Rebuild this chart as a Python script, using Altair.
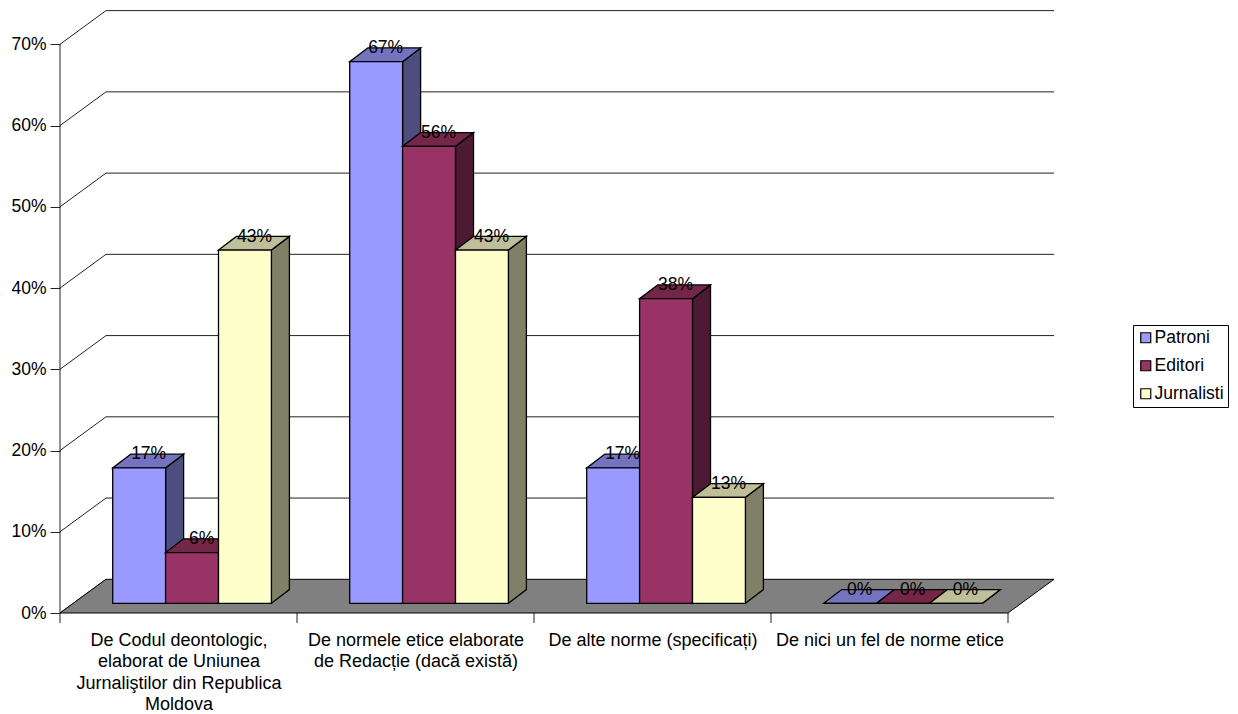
import altair as alt
import pandas as pd

categories = [
    "De Codul deontologic,|elaborat de Uniunea|Jurnaliştilor din Republica|Moldova",
    "De normele etice elaborate|de Redacție (dacă există)",
    "De alte norme (specificați)",
    "De nici un fel de norme etice",
]
series = ["Patroni", "Editori", "Jurnalisti"]
patroni = [16.67, 66.67, 16.67, 0]
editori = [6.25, 56.25, 37.5, 0]
jurnalisti = [43.48, 43.48, 13.04, 0]
values = [patroni, editori, jurnalisti]
labels = [
    ["17%", "67%", "17%", "0%"],
    ["6%", "56%", "38%", "0%"],
    ["43%", "43%", "13%", "0%"],
]
front_colors = ["#9999FF", "#993366", "#FFFFCC"]
top_colors = ["#7373BF", "#732647", "#BFBF99"]
side_colors = ["#4D4D80", "#4D1A33", "#808066"]
y_ticks = [0, 10, 20, 30, 40, 50, 60, 70]
x_ticks = [0, 1, 2, 3, 4]
label_ticks = [0.5, 1.5, 2.5, 3.5]

FONT = "Liberation Sans"
FS = 17.5
FS_X = 18
W, H = 994, 602
PX_X = 237.0        # pixels per category
PX_Y = 8.124        # pixels per percent
WALL_X = 46 / PX_X  # depth of the floor
WALL_Y = 33.7 / PX_Y
BAR_START = 52.7 / PX_X
BAR_W = 52.9 / PX_X
BAR_FLOOR = 9.7 / PX_Y
BAR_DX = 18 / PX_X
BAR_DY = 13.7 / PX_Y
TICK = 10 / PX_Y
LBL_DX = 9.5 / PX_X
LBL_DY = 13.5 / PX_Y

xs = alt.Scale(domain=[0, W / PX_X], range=[0, W], nice=False, zero=False)
ys = alt.Scale(domain=[0, H / PX_Y], range=[H, 0], nice=False, zero=False)

x_axis = alt.Axis(values=label_ticks, title=None, domain=False, ticks=False,
                  grid=False, labelFont=FONT, labelFontSize=FS_X,
                  labelColor="black", labelOverlap=False, labelBound=False,
                  labelFlush=False, labelPadding=27, labelLineHeight=21.5,
                  labelBaseline="middle", labelLimit=400,
                  labelExpr="split(" + repr(categories) + "[floor(datum.value)], '|')")
y_axis = alt.Axis(values=y_ticks, title=None, domain=False, grid=False,
                  tickSize=10, tickColor="#222222", labelFont=FONT,
                  labelFontSize=FS, labelColor="black", labelPadding=4,
                  labelExpr="datum.value + '%'")


def X(f):
    return alt.X(f, type="quantitative", scale=xs, axis=x_axis)


def Y(f):
    return alt.Y(f, type="quantitative", scale=ys, axis=y_axis)


# Back wall
grid = pd.DataFrame(
    {"x": WALL_X, "x2": 4 + WALL_X, "y": [t + WALL_Y for t in y_ticks if t > 0]}
)
wall = alt.Chart(grid).mark_rule(color="#222222", strokeWidth=1).encode(
    x=X("x:Q"), x2="x2:Q", y=Y("y:Q"))

diag = pd.DataFrame({"x": 0.0, "x2": WALL_X, "y": y_ticks,
                     "y2": [t + WALL_Y for t in y_ticks]})
diagonals = alt.Chart(diag).mark_rule(color="#222222", strokeWidth=1).encode(
    x=X("x:Q"), x2="x2:Q", y=Y("y:Q"), y2="y2:Q")

vert = pd.DataFrame({"x": [0.0], "y": [0.0], "y2": [70.0]})
y_line = alt.Chart(vert).mark_rule(color="#222222", strokeWidth=1).encode(
    x=X("x:Q"), y=Y("y:Q"), y2="y2:Q")

tick_df = pd.DataFrame({"x": x_ticks, "y": 0.0, "y2": -TICK})
x_tick_marks = alt.Chart(tick_df).mark_rule(color="#222222", strokeWidth=1, clip=False).encode(
    x=X("x:Q"), y=Y("y:Q"), y2="y2:Q")

floor_df = pd.DataFrame({"x": [0.0, WALL_X], "x2": [4.0, 4 + WALL_X], "y": [0.0, WALL_Y]})
floor = alt.Chart(floor_df).mark_area(
    orient="horizontal", color="#808080", stroke="black", strokeWidth=1
).encode(x=X("x:Q"), x2="x2:Q", y=Y("y:Q"))

layers = [wall, diagonals, y_line, x_tick_marks, floor]

color_scale = alt.Scale(domain=series, range=front_colors)
legend = alt.Legend(
    orient="none", legendX=1073, legendY=314, title=None,
    strokeColor="black", fillColor="white", padding=4,
    symbolType="square", symbolSize=100, symbolStrokeColor="black",
    symbolStrokeWidth=1.2, symbolOpacity=1,
    labelFont=FONT, labelFontSize=FS, labelColor="black", labelLimit=200,
    rowPadding=9, labelOffset=0,
)

for s, name in enumerate(series):
    side_rows, top_rows, front_rows = [], [], []
    for c, v in enumerate(values[s]):
        left = c + BAR_START + s * BAR_W
        right = left + BAR_W
        base = BAR_FLOOR
        top = BAR_FLOOR + v
        side_rows += [
            {"c": c, "x": right, "y": base, "y2": top},
            {"c": c, "x": right + BAR_DX, "y": base + BAR_DY, "y2": top + BAR_DY},
        ]
        top_rows += [
            {"c": c, "x": left, "x2": right, "y": top},
            {"c": c, "x": left + BAR_DX, "x2": right + BAR_DX, "y": top + BAR_DY},
        ]
        front_rows.append({"series": name, "x": left, "x2": right, "y": base, "y2": top})
    layers.append(
        alt.Chart(pd.DataFrame(side_rows)).mark_area(
            color=side_colors[s], stroke="black", strokeWidth=1.3
        ).encode(x=X("x:Q"), y=Y("y:Q"), y2="y2:Q", detail="c:N")
    )
    layers.append(
        alt.Chart(pd.DataFrame(top_rows)).mark_area(
            orient="horizontal", color=top_colors[s], stroke="black", strokeWidth=1.3
        ).encode(x=X("x:Q"), x2="x2:Q", y=Y("y:Q"), detail="c:N")
    )
    layers.append(
        alt.Chart(pd.DataFrame(front_rows)).mark_rect(
            stroke="black", strokeWidth=1.3
        ).encode(
            x=X("x:Q"), x2="x2:Q", y=Y("y:Q"), y2="y2:Q",
            color=alt.Color("series:N", scale=color_scale,
                            legend=legend if s == 0 else None),
        )
    )

text_rows = []
for s in range(3):
    for c, v in enumerate(values[s]):
        text_rows.append({
            "x": c + BAR_START + (s + 0.5) * BAR_W + LBL_DX,
            "y": BAR_FLOOR + v + LBL_DY,
            "t": labels[s][c],
        })
text = alt.Chart(pd.DataFrame(text_rows)).mark_text(
    font=FONT, fontSize=FS, color="black", align="center", baseline="middle"
).encode(x=X("x:Q"), y=Y("y:Q"), text="t:N")
layers.append(text)

chart = alt.layer(*layers).properties(
    width=W, height=H, background="white",
    padding={"left": 52, "top": 3, "right": 176, "bottom": 103},
    autosize=alt.AutoSizeParams(type="none"),
).resolve_scale(color="shared").configure_view(stroke=None)

chart.save("out.html", embed_options={"renderer": "svg", "actions": False})
